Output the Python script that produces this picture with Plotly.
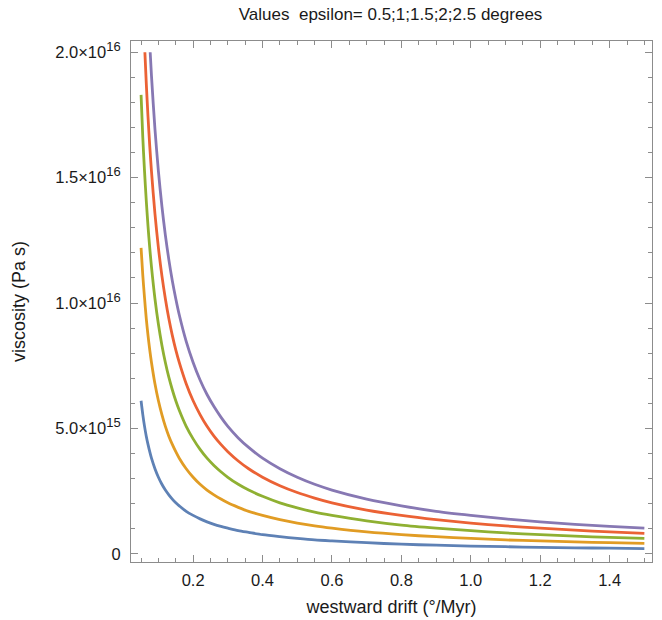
import plotly.graph_objects as go

# westward drift (°/Myr) sample points
drift = [0.05, 0.055, 0.06, 0.065, 0.07, 0.075, 0.08, 0.09, 0.1, 0.11, 0.12, 0.13,
         0.14, 0.15, 0.16, 0.18, 0.2, 0.22, 0.24, 0.26, 0.28, 0.3, 0.33, 0.36, 0.4,
         0.45, 0.5, 0.55, 0.6, 0.7, 0.8, 0.9, 1.0, 1.1, 1.2, 1.3, 1.4, 1.5]
# the two steepest curves leave the plot range at the top, so they start later
drift_red = [0.061] + drift[3:]
drift_purple = [0.0763] + drift[6:]

# viscosity in units of 1e15 Pa s, one list per epsilon
eps_05 = [6.10, 5.55, 5.08, 4.69, 4.36, 4.07, 3.81, 3.39, 3.05, 2.77, 2.54, 2.35,
          2.18, 2.03, 1.91, 1.69, 1.53, 1.39, 1.27, 1.17, 1.09, 1.02, 0.92, 0.85, 0.76,
          0.68, 0.61, 0.55, 0.51, 0.44, 0.38, 0.34, 0.305, 0.28, 0.25, 0.235, 0.22, 0.20]
eps_10 = [12.2, 11.1, 10.2, 9.38, 8.71, 8.13, 7.63, 6.78, 6.10, 5.55, 5.08, 4.69,
          4.36, 4.07, 3.81, 3.39, 3.05, 2.77, 2.54, 2.35, 2.18, 2.03, 1.85, 1.69, 1.53,
          1.36, 1.22, 1.11, 1.02, 0.87, 0.76, 0.68, 0.61, 0.55, 0.51, 0.47, 0.44, 0.41]
eps_15 = [18.3, 16.6, 15.25, 14.08, 13.07, 12.2, 11.44, 10.17, 9.15, 8.32, 7.63, 7.04,
          6.54, 6.10, 5.72, 5.08, 4.58, 4.16, 3.81, 3.52, 3.27, 3.05, 2.77, 2.54, 2.29,
          2.03, 1.83, 1.66, 1.53, 1.31, 1.14, 1.02, 0.92, 0.83, 0.76, 0.70, 0.65, 0.61]
eps_20 = [20.0, 18.77, 17.43, 16.27, 15.25, 13.56, 12.2, 11.09, 10.17, 9.38,
          8.71, 8.13, 7.63, 6.78, 6.10, 5.55, 5.08, 4.69, 4.36, 4.07, 3.70, 3.39, 3.05,
          2.71, 2.44, 2.22, 2.03, 1.74, 1.53, 1.36, 1.22, 1.11, 1.02, 0.94, 0.87, 0.81]
eps_25 = [20.0, 19.06, 16.94, 15.25, 13.86, 12.71, 11.73,
          10.89, 10.17, 9.53, 8.47, 7.63, 6.93, 6.35, 5.87, 5.45, 5.08, 4.62, 4.24, 3.81,
          3.39, 3.05, 2.77, 2.54, 2.18, 1.91, 1.69, 1.53, 1.39, 1.27, 1.17, 1.09, 1.02]

sup = "<sup><span style='font-size:13px'>%s</span></sup>"
y_ticks = [0, 5e15, 1e16, 1.5e16, 2e16]
y_labels = ["0", "5.0×10" + sup % "15", "1.0×10" + sup % "16",
            "1.5×10" + sup % "16", "2.0×10" + sup % "16"]
x_ticks = [0.2, 0.4, 0.6, 0.8, 1.0, 1.2, 1.4]
x_labels = ["0.2", "0.4", "0.6", "0.8", "1.0", "1.2", "1.4"]

series = [
    (drift, eps_05, "#5E81B5", "0.5"),
    (drift, eps_10, "#E19C24", "1"),
    (drift, eps_15, "#8FB032", "1.5"),
    (drift_red, eps_20, "#EB6235", "2"),
    (drift_purple, eps_25, "#8778B3", "2.5"),
]

fig = go.Figure()
for xs, vals, col, name in series:
    fig.add_trace(go.Scatter(
        x=xs, y=[v * 1e15 for v in vals],
        mode="lines", line=dict(color=col, width=2.8, shape="spline", smoothing=0.8),
        name=name, showlegend=False
    ))

font = dict(family="Liberation Sans", size=18, color="#1a1a1a")
axis_common = dict(
    showline=True, linecolor="#8c8c8c", linewidth=1, mirror="allticks",
    ticks="inside", ticklen=7, tickcolor="#8c8c8c", tickwidth=1,
    showgrid=False, zeroline=False, automargin=False,
    tickfont=dict(family="Liberation Sans", size=16.5, color="#1a1a1a"),
)

fig.update_layout(
    width=662, height=620,
    paper_bgcolor="white", plot_bgcolor="white",
    margin=dict(l=131, r=10, t=41, b=58),
    title=dict(text="Values  epsilon= 0.5;1;1.5;2;2.5 degrees", automargin=False,
               x=0.59, xanchor="center", y=0.977, yanchor="middle",
               font=dict(font, size=17)),
    xaxis=dict(axis_common, range=[0.021, 1.522], tickvals=x_ticks, ticktext=x_labels,
               ticklabelstandoff=3,
               minor=dict(ticks="inside", ticklen=4, dtick=0.05, tick0=0, tickcolor="#8c8c8c"),
               title=dict(text="westward drift (°/Myr)", standoff=12, font=font)),
    yaxis=dict(axis_common, range=[-3.3e14, 2.045e16], tickvals=y_ticks, ticktext=y_labels,
               ticklabelstandoff=6,
               minor=dict(ticks="inside", ticklen=4, dtick=1e15, tick0=0, tickcolor="#8c8c8c"),
               title=dict(text="viscosity (Pa s)", standoff=24, font=font)),
)

# drop the page's default body margin so the figure sits at the window corner
fig.write_html("out.html", config={"displayModeBar": False},
               post_script="document.body.style.margin='0px';")
